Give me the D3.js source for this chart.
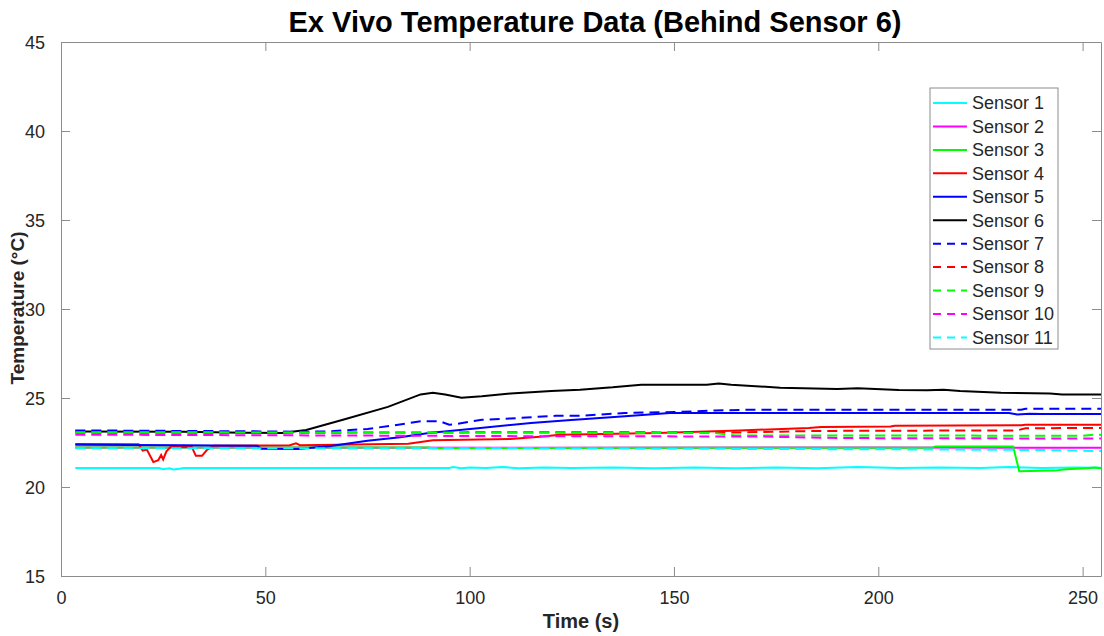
<!DOCTYPE html>
<html>
<head>
<meta charset="utf-8">
<script src="https://cdn.jsdelivr.net/npm/d3@7"></script>
<style>
  body { margin: 0; background: #fff; }
  svg text { font-family: "Liberation Sans", Arial, Helvetica, sans-serif; }
</style>
</head>
<body>
<div id="chart"></div>
<script>
// readings as [time (s), temperature (C)]
var sensor1 = [[3.5,21.07],[24,21.07],[25,21.0],[26.5,21.05],[27.5,20.99],[29,21.02],[30,21.07],[95,21.07],[96,21.12],[98,21.05],[100,21.1],[104,21.07],[108,21.12],[112,21.06],[118,21.1],[125,21.07],[135,21.1],[145,21.06],[155,21.1],[165,21.06],[175,21.1],[185,21.05],[195,21.12],[205,21.07],[215,21.1],[225,21.07],[232,21.12],[240,21.07],[248,21.1],[254.5,21.08]];
var sensor2 = [[3.5,22.22],[120,22.2],[200,22.22],[254.5,22.2]];
var sensor3 = [[3.5,22.22],[90,22.22],[91,22.18],[150,22.2],[213,22.2],[214,22.28],[233,22.28],[234.5,20.88],[243,20.92],[246,21.0],[251,21.05],[253,21.1],[254.5,21.05]];
var sensor4 = [[3.5,22.42],[19,22.4],[20,22.05],[21,22.1],[22.6,21.4],[23.8,21.5],[24.5,21.8],[25,21.55],[25.8,22.0],[26.8,22.25],[32,22.25],[33,21.75],[34.5,21.75],[35.8,22.1],[37.5,22.32],[56,22.35],[57.5,22.45],[58.5,22.35],[85,22.43],[91,22.62],[110,22.7],[118,22.84],[122,22.94],[146,23.03],[166,23.18],[183,23.31],[186,23.37],[203,23.4],[204,23.44],[235,23.47],[236,23.5],[254.5,23.5]];
var sensor5 = [[3.5,22.38],[30,22.35],[48,22.32],[49,22.15],[58,22.13],[66,22.3],[75,22.6],[83,22.8],[90,23.03],[102,23.3],[115,23.6],[124,23.75],[138,23.97],[149,24.16],[232,24.16],[234,24.08],[237,24.12],[240,24.1],[254.5,24.1]];
var sensor6 = [[3.5,23.12],[30,23.1],[45,23.05],[54,23.03],[60,23.2],[69,23.78],[80,24.5],[88,25.2],[91,25.3],[94,25.2],[98,25.02],[103,25.1],[110,25.25],[120,25.4],[127,25.47],[135,25.6],[142,25.75],[158,25.75],[161,25.82],[164,25.75],[176,25.58],[190,25.5],[195,25.55],[205,25.45],[212,25.43],[216,25.47],[220,25.4],[230,25.3],[242,25.25],[245,25.2],[254.5,25.2]];
var sensor7 = [[3.5,23.18],[53,23.12],[58,23.1],[65,23.12],[75,23.26],[81,23.45],[88,23.69],[92.7,23.69],[95,23.5],[97,23.55],[103,23.78],[110,23.85],[121,24.0],[127,24.0],[138,24.16],[150,24.21],[160,24.3],[168,24.34],[235,24.34],[236,24.4],[254.5,24.4]];
var sensor8 = [[3.5,23.05],[60,23.05],[120,23.08],[165,23.06],[185,23.15],[234,23.18],[236,23.3],[254.5,23.32]];
var sensor9 = [[3.5,23.08],[100,23.05],[160,23.03],[165,22.9],[250,22.88],[253,22.95],[254.5,22.92]];
var sensor10 = [[3.5,22.94],[60,22.9],[120,22.85],[170,22.84],[190,22.75],[254.5,22.72]];
var sensor11 = [[3.5,22.18],[100,22.18],[150,22.15],[200,22.12],[240,22.08],[254.5,22.02]];

var names = ["Sensor 1","Sensor 2","Sensor 3","Sensor 4","Sensor 5","Sensor 6","Sensor 7","Sensor 8","Sensor 9","Sensor 10","Sensor 11"];
var colors = ["#00ffff","#ff00ff","#00ff00","#ff0000","#0000ff","#000000","#0000ff","#ff0000","#00ff00","#ff00ff","#00ffff"];
var dashed = [false,false,false,false,false,false,true,true,true,true,true];
var xTicks = [0, 50, 100, 150, 200, 250];
var yTicks = [15, 20, 25, 30, 35, 40, 45];

function init() {
    var w = 1104, h = 636;
    var left = 61, right = 1101, top = 42, bottom = 576;
    var series = [sensor1, sensor2, sensor3, sensor4, sensor5, sensor6, sensor7, sensor8, sensor9, sensor10, sensor11];

    var svg = d3.select("#chart")
        .append("svg")
        .attr("width", w)
        .attr("height", h);

    var xScale = d3.scaleLinear().domain([0, 254.5]).range([left, right]);
    var yScale = d3.scaleLinear().domain([15, 45]).range([bottom, top]);

    var line = d3.line()
        .x(function (d) { return xScale(d[0]); })
        .y(function (d) { return yScale(d[1]); });

    svg.append("g")
        .selectAll("path")
        .data(series)
        .enter()
        .append("path")
        .attr("d", line)
        .attr("fill", "none")
        .attr("stroke", function (d, i) { return colors[i]; })
        .attr("stroke-width", 2)
        .attr("stroke-dasharray", function (d, i) { return dashed[i] ? "10,6" : null; });

    // box and inward ticks, matlab style
    var axisCol = "#8c8c8c", textCol = "#262626";
    var tick = 9;
    var bottomAxis = d3.axisBottom(xScale).tickValues(xTicks).tickSizeInner(-tick).tickSizeOuter(0).tickPadding(15);
    var topAxis = d3.axisTop(xScale).tickValues(xTicks).tickSizeInner(-tick).tickSizeOuter(0).tickFormat("");
    var leftAxis = d3.axisLeft(yScale).tickValues(yTicks).tickSizeInner(-tick).tickSizeOuter(0).tickPadding(16);
    var rightAxis = d3.axisRight(yScale).tickValues(yTicks).tickSizeInner(-tick).tickSizeOuter(0).tickFormat("");

    var gx = svg.append("g").attr("transform", "translate(0," + bottom + ")").call(bottomAxis);
    var gt = svg.append("g").attr("transform", "translate(0," + top + ")").call(topAxis);
    var gy = svg.append("g").attr("transform", "translate(" + left + ",0)").call(leftAxis);
    var gr = svg.append("g").attr("transform", "translate(" + right + ",0)").call(rightAxis);

    [gx, gt, gy, gr].forEach(function (g) {
        g.selectAll("path, line").attr("stroke", axisCol).attr("stroke-width", 1);
        g.selectAll("text").attr("fill", textCol).style("font-size", "18px");
    });
    gy.selectAll("text").attr("dy", "0.36em");

    svg.append("text")
        .attr("x", 595)
        .attr("y", 32)
        .attr("text-anchor", "middle")
        .style("font-size", "29px")
        .style("font-weight", "bold")
        .attr("fill", "#000")
        .text("Ex Vivo Temperature Data (Behind Sensor 6)");

    svg.append("text")
        .attr("x", (left + right) / 2)
        .attr("y", 628)
        .attr("text-anchor", "middle")
        .style("font-size", "20px")
        .style("font-weight", "bold")
        .attr("fill", textCol)
        .text("Time (s)");

    svg.append("text")
        .attr("transform", "translate(24," + 308 + ") rotate(-90)")
        .attr("text-anchor", "middle")
        .style("font-size", "19px")
        .style("font-weight", "bold")
        .attr("fill", textCol)
        .text("Temperature (°C)");

    // legend
    var lx = 930, ly = 88, lw = 128, lh = 261, step = 23.44;
    var legend = svg.append("g");
    legend.append("rect")
        .attr("x", lx).attr("y", ly)
        .attr("width", lw).attr("height", lh)
        .attr("fill", "#fff")
        .attr("stroke", "#8c8c8c")
        .attr("stroke-width", 1);

    legend.selectAll("line")
        .data(names)
        .enter()
        .append("line")
        .attr("x1", lx + 3)
        .attr("x2", lx + 37)
        .attr("y1", function (d, i) { return ly + 15 + i * step; })
        .attr("y2", function (d, i) { return ly + 15 + i * step; })
        .attr("stroke", function (d, i) { return colors[i]; })
        .attr("stroke-width", 2)
        .attr("stroke-dasharray", function (d, i) { return dashed[i] ? "8,6" : null; });

    legend.selectAll("text")
        .data(names)
        .enter()
        .append("text")
        .attr("x", lx + 42)
        .attr("y", function (d, i) { return ly + 15 + i * step; })
        .attr("dy", "0.35em")
        .style("font-size", "18px")
        .attr("fill", textCol)
        .text(function (d) { return d; });
}

window.onload = init;
</script>
</body>
</html>
